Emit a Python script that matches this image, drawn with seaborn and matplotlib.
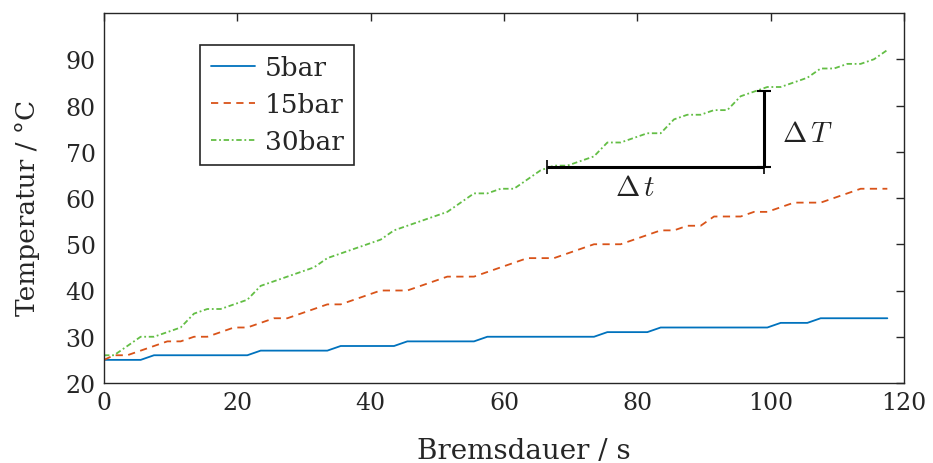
import matplotlib
matplotlib.use("Agg")
import pandas as pd
import seaborn as sns
import matplotlib.pyplot as plt

# Messzeitpunkte in s
zeit = [0, 1.5, 3.5, 5.5, 7.5, 9.5, 11.5, 13.5, 15.5, 17.5, 19.5, 21.5,
        23.5, 25.5, 27.5, 29.5, 31.5, 33.5, 35.5, 37.5, 39.5, 41.5, 43.5,
        45.5, 47.5, 49.5, 51.5, 53.5, 55.5, 57.5, 59.5, 61.5, 63.5, 65.5,
        67.5, 69.5, 71.5, 73.5, 75.5, 77.5, 79.5, 81.5, 83.5, 85.5, 87.5,
        89.5, 91.5, 93.5, 95.5, 97.5, 99.5, 101.5, 103.5, 105.5, 107.5,
        109.5, 111.5, 113.5, 115.5, 117.5]

temp_5bar = [25, 25, 25, 25, 26, 26, 26, 26, 26, 26, 26, 26,
             27, 27, 27, 27, 27, 27, 28, 28, 28, 28, 28,
             29, 29, 29, 29, 29, 29, 30, 30, 30, 30, 30,
             30, 30, 30, 30, 31, 31, 31, 31, 32, 32, 32,
             32, 32, 32, 32, 32, 32, 33, 33, 33, 34,
             34, 34, 34, 34, 34]

temp_15bar = [25, 26, 26, 27, 28, 29, 29, 30, 30, 31, 32, 32,
              33, 34, 34, 35, 36, 37, 37, 38, 39, 40, 40,
              40, 41, 42, 43, 43, 43, 44, 45, 46, 47, 47,
              47, 48, 49, 50, 50, 50, 51, 52, 53, 53, 54,
              54, 56, 56, 56, 57, 57, 58, 59, 59, 59,
              60, 61, 62, 62, 62]

temp_30bar = [26, 26, 28, 30, 30, 31, 32, 35, 36, 36, 37, 38,
              41, 42, 43, 44, 45, 47, 48, 49, 50, 51, 53,
              54, 55, 56, 57, 59, 61, 61, 62, 62, 64, 66,
              67, 67, 68, 69, 72, 72, 73, 74, 74, 77, 78,
              78, 79, 79, 82, 83, 84, 84, 85, 86, 88,
              88, 89, 89, 90, 92]

serien = ["5bar", "15bar", "30bar"]
farben = {"5bar": "#0072BD", "15bar": "#D95319", "30bar": "#63BE45"}
striche = {"5bar": "", "15bar": (4, 3), "30bar": (3, 1.5, 1, 1.5)}

# Steigungsdreieck (Delta t / Delta T)
dt_start, dt_end, dt_temp = 66.4, 99.0, 66.65
dT_top = 83.1

df = pd.concat([
    pd.DataFrame({"zeit": zeit, "temp": temp_5bar, "druck": "5bar"}),
    pd.DataFrame({"zeit": zeit, "temp": temp_15bar, "druck": "15bar"}),
    pd.DataFrame({"zeit": zeit, "temp": temp_30bar, "druck": "30bar"}),
])

sns.set_style("white")
plt.rcParams["font.family"] = ["DejaVu Serif"]
plt.rcParams["mathtext.fontset"] = "cm"

fig, ax = plt.subplots(figsize=(9.33, 4.64), dpi=100)
fig.subplots_adjust(left=104/933, right=904/933, bottom=1-384/464, top=1-14/464)

sns.lineplot(data=df, x="zeit", y="temp", hue="druck", style="druck",
             hue_order=serien, style_order=serien, palette=farben,
             dashes=striche, linewidth=1.3, ax=ax)

# Delta t und Delta T
ax.errorbar((dt_start + dt_end) / 2, dt_temp, xerr=(dt_end - dt_start) / 2,
            color="black", linewidth=2.2, capsize=5, capthick=1.2, fmt="none")
ax.errorbar(dt_end, (dt_temp + dT_top) / 2, yerr=(dT_top - dt_temp) / 2,
            color="black", linewidth=2.2, capsize=5, capthick=1.5, fmt="none")
ax.text((dt_start + dt_end) / 2 - 3, dt_temp - 1.3, r"$\Delta\,t$",
        fontsize=21, ha="center", va="top", color="#222222")
ax.text(dt_end + 2.7, (dt_temp + dT_top) / 2 - 0.8, r"$\Delta\,T$",
        fontsize=21, ha="left", va="center", color="#222222")

ax.set_xlim(0, 120)
ax.set_ylim(20, 100)
ax.set_xticks([0, 20, 40, 60, 80, 100, 120])
ax.set_yticks([20, 30, 40, 50, 60, 70, 80, 90])
ax.tick_params(direction="in", length=6, width=1, top=True, right=True,
               labelsize=17, colors="#262626", pad=6)
for s in ax.spines.values():
    s.set_color("#262626")
    s.set_linewidth(1)

ax.set_xlabel("Bremsdauer / s", fontsize=20, color="#262626")
ax.set_ylabel("Temperatur / °C", fontsize=19, color="#262626")
ax.xaxis.set_label_coords(0.525, -0.145)
ax.yaxis.set_label_coords(-0.08, 0.475)

leg = ax.legend(loc="upper left", bbox_to_anchor=(0.12, 0.914), fontsize=19,
                frameon=True, fancybox=False, framealpha=1, edgecolor="#262626",
                handlelength=1.7, labelspacing=0.45, borderpad=0.4,
                handletextpad=0.35, borderaxespad=0)
leg.get_frame().set_linewidth(1.2)
for t in leg.get_texts():
    t.set_color("#262626")

fig.savefig("out.png", dpi=100)
